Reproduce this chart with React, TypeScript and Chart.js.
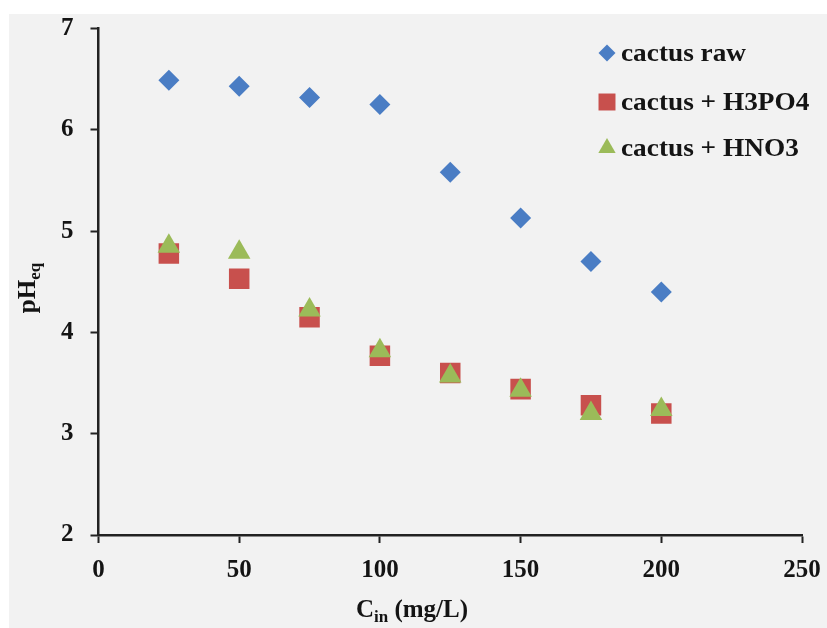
import React, { useEffect, useRef } from 'react';
import { Chart, registerables } from 'chart.js';

Chart.register(...registerables);

const concentrations = [25, 50, 75, 100, 125, 150, 175, 200];
const cactusRaw = [6.49, 6.43, 6.32, 6.25, 5.58, 5.13, 4.7, 4.4];
const cactusH3PO4 = [4.78, 4.53, 4.15, 3.77, 3.6, 3.44, 3.28, 3.2];
const cactusHNO3 = [4.85, 4.79, 4.22, 3.82, 3.57, 3.43, 3.2, 3.24];
const seriesLabels = ['cactus raw', 'cactus + H3PO4', 'cactus + HNO3'];
const seriesColors = ['#4A7DC4', '#C8504D', '#9BBB59'];
const seriesStyles = ['rectRot', 'rect', 'triangle'];
const seriesRadius = [10.5, 14.5, 13];
const xRange = [0, 250];
const xStep = 50;
const yRange = [2, 7];
const yStep = 1;

const FONT = '"Liberation Serif", "Times New Roman", serif';
const TEXT = '#141414';

function drawShape(ctx: CanvasRenderingContext2D, style: string, x: number, y: number, r: number) {
  ctx.beginPath();
  if (style === 'rectRot') {
    ctx.moveTo(x, y - r);
    ctx.lineTo(x + r, y);
    ctx.lineTo(x, y + r);
    ctx.lineTo(x - r, y);
  } else if (style === 'rect') {
    const s = r * Math.SQRT1_2;
    ctx.rect(x - s, y - s, 2 * s, 2 * s);
  } else {
    ctx.moveTo(x, y - r);
    ctx.lineTo(x + r * 0.866, y + r * 0.5);
    ctx.lineTo(x - r * 0.866, y + r * 0.5);
  }
  ctx.closePath();
  ctx.fill();
}

const overlayPlugin = {
  id: 'overlay',
  afterDraw(chart: any) {
    const ctx: CanvasRenderingContext2D = chart.ctx;
    ctx.save();
    // legend
    const rows = [39, 88, 134];
    const legendR = [8.5, 12, 10];
    ctx.font = `bold 26px ${FONT}`;
    ctx.textBaseline = 'middle';
    ctx.textAlign = 'left';
    seriesLabels.forEach((lab, i) => {
      ctx.fillStyle = seriesColors[i];
      drawShape(ctx, seriesStyles[i], 598, rows[i], legendR[i]);
      ctx.fillStyle = TEXT;
      ctx.save();
      ctx.translate(612, rows[i] + 1);
      ctx.scale(1.05, 1);
      ctx.fillText(lab, 0, 0);
      ctx.restore();
    });

    // x title: C_in (mg/L)
    ctx.textBaseline = 'alphabetic';
    const mainF = `bold 25px ${FONT}`;
    const subF = `bold 17px ${FONT}`;
    ctx.font = mainF;
    const w1 = ctx.measureText('C').width;
    const w3 = ctx.measureText(' (mg/L)').width;
    ctx.font = subF;
    const w2 = ctx.measureText('in').width;
    const total = w1 + w2 + w3;
    const x0 = 403 - total / 2;
    const base = 603;
    ctx.fillStyle = TEXT;
    ctx.font = mainF;
    ctx.fillText('C', x0, base);
    ctx.font = subF;
    ctx.fillText('in', x0 + w1, base + 5);
    ctx.font = mainF;
    ctx.fillText(' (mg/L)', x0 + w1 + w2, base);

    // y title: pH_eq
    ctx.translate(26, 274);
    ctx.rotate(-Math.PI / 2);
    ctx.font = mainF;
    const p1 = ctx.measureText('pH').width;
    ctx.font = subF;
    const p2 = ctx.measureText('eq').width;
    const ptot = p1 + p2;
    ctx.font = mainF;
    ctx.fillText('pH', -ptot / 2, 0);
    ctx.font = subF;
    ctx.fillText('eq', -ptot / 2 + p1, 5);
    ctx.restore();
  },
};

export default function App() {
  const ref = useRef<HTMLCanvasElement | null>(null);
  useEffect(() => {
    if (!ref.current) return;
    const series = [cactusRaw, cactusH3PO4, cactusHNO3];
    const orders = [2, 1, 0];
    const tickFont = { family: FONT, weight: 'bold' as const, size: 25 };
    const chart = new Chart(ref.current, {
      type: 'scatter',
      data: {
        datasets: series.map((vals, i) => ({
          label: seriesLabels[i],
          data: vals.map((v, j) => ({ x: concentrations[j], y: v })),
          pointStyle: seriesStyles[i] as any,
          pointRadius: seriesRadius[i],
          pointHoverRadius: seriesRadius[i],
          pointBackgroundColor: seriesColors[i],
          pointBorderColor: seriesColors[i],
          pointBorderWidth: 0,
          backgroundColor: seriesColors[i],
          borderColor: seriesColors[i],
          showLine: false,
          order: orders[i],
        })),
      },
      options: {
        animation: false,
        responsive: false,
        maintainAspectRatio: false,
        layout: { padding: { left: 0, top: 11, right: 25, bottom: 0 } },
        plugins: {
          legend: { display: false },
          tooltip: { enabled: false },
          title: { display: false },
        },
        scales: {
          x: {
            type: 'linear',
            position: 'bottom',
            min: xRange[0],
            max: xRange[1],
            ticks: { stepSize: xStep, font: tickFont, color: TEXT, padding: 13, maxRotation: 0 },
            grid: { drawOnChartArea: false, drawTicks: true, tickLength: 8, tickWidth: 2, tickColor: '#222' },
            border: { display: true, color: '#222', width: 2.5 },
            afterFit(scale: any) {
              scale.height = 93;
              scale.paddingLeft = 0;
              scale.paddingRight = 0;
            },
          },
          y: {
            type: 'linear',
            position: 'left',
            min: yRange[0],
            max: yRange[1],
            ticks: { stepSize: yStep, font: tickFont, color: TEXT, padding: 17 },
            grid: { drawOnChartArea: false, drawTicks: true, tickLength: 8, tickWidth: 2, tickColor: '#222' },
            border: { display: true, color: '#222', width: 2.5 },
            afterFit(scale: any) {
              scale.width = 89.5;
              scale.paddingTop = 0;
              scale.paddingBottom = 0;
            },
          },
        },
      },
      plugins: [overlayPlugin],
    });
    return () => chart.destroy();
  }, []);

  return (
    <div style={{ position: 'absolute', left: 0, top: 0, width: 827, height: 628, background: '#fff', overflow: 'hidden' }}>
      <div style={{ position: 'absolute', left: 9, top: 14, width: 818, height: 614, background: '#f2f2f2' }}>
        <canvas ref={ref} width={818} height={614} style={{ display: 'block', width: 818, height: 614 }} />
      </div>
    </div>
  );
}
